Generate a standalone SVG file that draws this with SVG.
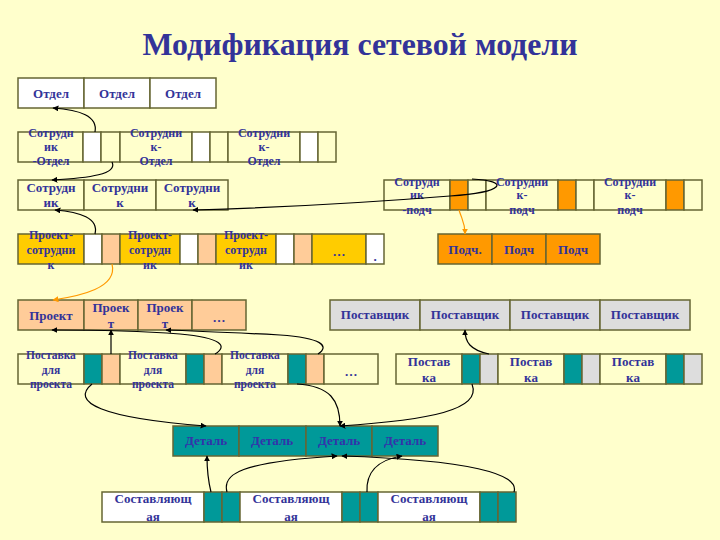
<svg xmlns="http://www.w3.org/2000/svg" width="720" height="540" viewBox="0 0 720 540">
<defs>
<style>
.b{stroke:#666633;stroke-width:1.5}
.w{fill:#FFFFFF}.c{fill:#FFFFCC}.g{fill:#FFCC00}.o{fill:#FF9900}.p{fill:#FFCC99}.t{fill:#009999}.s{fill:#DDDDDD}
text{font-family:"Liberation Serif","Times New Roman",serif;font-weight:bold;fill:#333399;text-anchor:middle}
.f13{font-size:13px}.f12{font-size:12px}.f11{font-size:11.5px}
.dt{fill:#3333AA}
.k{fill:none;stroke:#000;stroke-width:1.2}
.ko{fill:none;stroke:#FF9900;stroke-width:1.2}
</style>
<marker id="a" viewBox="0 0 10 10" refX="9" refY="5" markerWidth="6" markerHeight="6" markerUnits="userSpaceOnUse" orient="auto"><path d="M0,0L10,5L0,10z" fill="#000"/></marker>
<marker id="ao" viewBox="0 0 10 10" refX="9" refY="5" markerWidth="6" markerHeight="6" markerUnits="userSpaceOnUse" orient="auto"><path d="M0,0L10,5L0,10z" fill="#FF9900"/></marker>
</defs>
<rect width="720" height="540" fill="#FFFFCC"/>
<text x="360" y="55" font-size="32" textLength="435" lengthAdjust="spacingAndGlyphs">Модификация сетевой модели</text>

<g id="otdel">
<rect class="b w" x="18" y="78" width="66" height="30"/><rect class="b w" x="84" y="78" width="66" height="30"/><rect class="b w" x="150" y="78" width="66" height="30"/>
<text class="f13" x="51" y="98">Отдел</text><text class="f13" x="117" y="98">Отдел</text><text class="f13" x="183" y="98">Отдел</text>
</g>

<g id="sotr-otdel">
<rect class="b c" x="18" y="132" width="65" height="30"/><rect class="b w" x="83" y="132" width="18" height="30"/><rect class="b c" x="101" y="132" width="19" height="30"/>
<rect class="b c" x="120" y="132" width="72" height="30"/><rect class="b w" x="192" y="132" width="18" height="30"/><rect class="b c" x="210" y="132" width="18" height="30"/>
<rect class="b c" x="228" y="132" width="72" height="30"/><rect class="b w" x="300" y="132" width="18" height="30"/><rect class="b c" x="318" y="132" width="18" height="30"/>
<text class="f12"><tspan x="51" y="137">Сотрудн</tspan><tspan x="51" y="151">ик</tspan><tspan x="51" y="165">-Отдел</tspan></text>
<text class="f12"><tspan x="156" y="137">Сотрудни</tspan><tspan x="156" y="151">к-</tspan><tspan x="156" y="165">Отдел</tspan></text>
<text class="f12"><tspan x="264" y="137">Сотрудни</tspan><tspan x="264" y="151">к-</tspan><tspan x="264" y="165">Отдел</tspan></text>
</g>

<g id="sotrudnik">
<rect class="b c" x="18" y="180" width="66" height="30"/><rect class="b c" x="84" y="180" width="72" height="30"/><rect class="b c" x="156" y="180" width="72" height="30"/>
<text class="f13"><tspan x="51" y="192">Сотрудн</tspan><tspan x="51" y="207">ик</tspan></text>
<text class="f13"><tspan x="120" y="192">Сотрудни</tspan><tspan x="120" y="207">к</tspan></text>
<text class="f13"><tspan x="192" y="192">Сотрудни</tspan><tspan x="192" y="207">к</tspan></text>
</g>

<g id="sotr-podch">
<rect class="b c" x="384" y="180" width="66" height="30"/><rect class="b o" x="450" y="180" width="18" height="30"/><rect class="b c" x="468" y="180" width="18" height="30"/>
<rect class="b c" x="486" y="180" width="72" height="30"/><rect class="b o" x="558" y="180" width="18" height="30"/><rect class="b c" x="576" y="180" width="18" height="30"/>
<rect class="b c" x="594" y="180" width="72" height="30"/><rect class="b o" x="666" y="180" width="18" height="30"/><rect class="b c" x="684" y="180" width="18" height="30"/>
<text class="f12"><tspan x="417" y="186">Сотрудн</tspan><tspan x="417" y="199">ик</tspan><tspan x="417" y="214">-подч</tspan></text>
<text class="f12"><tspan x="522" y="186">Сотрудни</tspan><tspan x="522" y="199">к-</tspan><tspan x="522" y="214">подч</tspan></text>
<text class="f12"><tspan x="630" y="186">Сотрудни</tspan><tspan x="630" y="199">к-</tspan><tspan x="630" y="214">подч</tspan></text>
</g>

<g id="proekt-sotr">
<rect class="b g" x="18" y="234" width="66" height="30"/><rect class="b w" x="84" y="234" width="18" height="30"/><rect class="b p" x="102" y="234" width="18" height="30"/>
<rect class="b g" x="120" y="234" width="60" height="30"/><rect class="b w" x="180" y="234" width="18" height="30"/><rect class="b p" x="198" y="234" width="18" height="30"/>
<rect class="b g" x="216" y="234" width="60" height="30"/><rect class="b w" x="276" y="234" width="18" height="30"/><rect class="b p" x="294" y="234" width="18" height="30"/>
<rect class="b g" x="312" y="234" width="54" height="30"/><rect class="b w" x="366" y="234" width="18" height="30"/>
<text class="f12"><tspan x="51" y="239">Проект-</tspan><tspan x="51" y="254">сотрудни</tspan><tspan x="51" y="269">к</tspan></text>
<text class="f12"><tspan x="150" y="239">Проект-</tspan><tspan x="150" y="254">сотрудн</tspan><tspan x="150" y="269">ик</tspan></text>
<text class="f12"><tspan x="246" y="239">Проект-</tspan><tspan x="246" y="254">сотрудн</tspan><tspan x="246" y="269">ик</tspan></text>
<text class="f13" x="339" y="256">…</text>
<text class="f13" x="375" y="261">.</text>
</g>

<g id="podch">
<rect class="b o" x="438" y="234" width="54" height="30"/><rect class="b o" x="492" y="234" width="54" height="30"/><rect class="b o" x="546" y="234" width="54" height="30"/>
<text class="f13" x="465" y="254">Подч.</text><text class="f13" x="519" y="254">Подч</text><text class="f13" x="573" y="254">Подч</text>
</g>

<g id="proekt">
<rect class="b p" x="18" y="300" width="66" height="30"/><rect class="b p" x="84" y="300" width="54" height="30"/><rect class="b p" x="138" y="300" width="54" height="30"/><rect class="b p" x="192" y="300" width="54" height="30"/>
<text class="f13" x="51" y="320">Проект</text>
<text class="f13"><tspan x="111" y="312">Проек</tspan><tspan x="111" y="328">т</tspan></text>
<text class="f13"><tspan x="165" y="312">Проек</tspan><tspan x="165" y="328">т</tspan></text>
<text class="f13" x="219" y="322">…</text>
</g>

<g id="postavshik">
<rect class="b s" x="330" y="300" width="90" height="30"/><rect class="b s" x="420" y="300" width="90" height="30"/><rect class="b s" x="510" y="300" width="90" height="30"/><rect class="b s" x="600" y="300" width="90" height="30"/>
<text class="f13" x="375" y="319">Поставщик</text><text class="f13" x="465" y="319">Поставщик</text><text class="f13" x="555" y="319">Поставщик</text><text class="f13" x="645" y="319">Поставщик</text>
</g>

<g id="postavka-proekt">
<rect class="b c" x="18" y="354" width="66" height="30"/><rect class="b t" x="84" y="354" width="18" height="30"/><rect class="b p" x="102" y="354" width="18" height="30"/>
<rect class="b c" x="120" y="354" width="66" height="30"/><rect class="b t" x="186" y="354" width="18" height="30"/><rect class="b p" x="204" y="354" width="18" height="30"/>
<rect class="b c" x="222" y="354" width="66" height="30"/><rect class="b t" x="288" y="354" width="18" height="30"/><rect class="b p" x="306" y="354" width="18" height="30"/>
<rect class="b c" x="324" y="354" width="54" height="30"/>
<text class="f11"><tspan x="51" y="359">Поставка</tspan><tspan x="51" y="374">для</tspan><tspan x="51" y="388">проекта</tspan></text>
<text class="f11"><tspan x="153" y="359">Поставка</tspan><tspan x="153" y="374">для</tspan><tspan x="153" y="388">проекта</tspan></text>
<text class="f11"><tspan x="255" y="359">Поставка</tspan><tspan x="255" y="374">для</tspan><tspan x="255" y="388">проекта</tspan></text>
<text class="f13" x="351" y="376">…</text>
</g>

<g id="postavka">
<rect class="b c" x="396" y="354" width="66" height="30"/><rect class="b t" x="462" y="354" width="18" height="30"/><rect class="b s" x="480" y="354" width="18" height="30"/>
<rect class="b c" x="498" y="354" width="66" height="30"/><rect class="b t" x="564" y="354" width="18" height="30"/><rect class="b s" x="582" y="354" width="18" height="30"/>
<rect class="b c" x="600" y="354" width="66" height="30"/><rect class="b t" x="666" y="354" width="18" height="30"/><rect class="b s" x="684" y="354" width="18" height="30"/>
<text class="f13"><tspan x="429" y="366">Постав</tspan><tspan x="429" y="382">ка</tspan></text>
<text class="f13"><tspan x="531" y="366">Постав</tspan><tspan x="531" y="382">ка</tspan></text>
<text class="f13"><tspan x="633" y="366">Постав</tspan><tspan x="633" y="382">ка</tspan></text>
</g>

<g id="detal">
<rect class="b t" x="173" y="426" width="66" height="30"/><rect class="b t" x="239" y="426" width="67" height="30"/><rect class="b t" x="306" y="426" width="66" height="30"/><rect class="b t" x="372" y="426" width="66" height="30"/>
<text class="f13 dt" x="206" y="445">Деталь</text><text class="f13 dt" x="272" y="445">Деталь</text><text class="f13 dt" x="339" y="445">Деталь</text><text class="f13 dt" x="405" y="445">Деталь</text>
</g>

<g id="sostavl">
<rect class="b w" x="102" y="492" width="102" height="30"/><rect class="b t" x="204" y="492" width="18" height="30"/><rect class="b t" x="222" y="492" width="18" height="30"/>
<rect class="b w" x="240" y="492" width="102" height="30"/><rect class="b t" x="342" y="492" width="18" height="30"/><rect class="b t" x="360" y="492" width="18" height="30"/>
<rect class="b w" x="378" y="492" width="102" height="30"/><rect class="b t" x="480" y="492" width="18" height="30"/><rect class="b t" x="498" y="492" width="18" height="30"/>
<text class="f13"><tspan x="153" y="503">Составляющ</tspan><tspan x="153" y="521">ая</tspan></text>
<text class="f13"><tspan x="291" y="503">Составляющ</tspan><tspan x="291" y="521">ая</tspan></text>
<text class="f13"><tspan x="429" y="503">Составляющ</tspan><tspan x="429" y="521">ая</tspan></text>
</g>

<g id="connectors">
<path class="k" marker-end="url(#a)" d="M95,132 C98,116 80,110 53,108"/>
<path class="k" marker-end="url(#a)" d="M112,162 C118,174 90,178 52,180"/>
<path class="k" marker-end="url(#a)" d="M95,234 C99,218 80,212 55,210"/>
<path class="k" marker-end="url(#a)" d="M472,179 C510,181 506,192 450,196 C400,200 300,207 193,210"/>
<path class="ko" marker-end="url(#ao)" d="M459,210 C462,220 465,222 465,234"/>
<path class="ko" marker-end="url(#ao)" d="M112,264 C118,288 80,296 53,300"/>
<path class="k" marker-end="url(#a)" d="M111,354 L111,330"/>
<path class="k" marker-end="url(#a)" d="M215,354 C228,346 222,338 180,334 C140,331 90,330 52,330"/>
<path class="k" marker-end="url(#a)" d="M318,354 C330,346 322,338 280,335 C240,333 200,331 166,330"/>
<path class="k" marker-end="url(#a)" d="M92,384 C70,402 100,418 206,426"/>
<path class="k" marker-end="url(#a)" d="M297,384 C330,386 340,400 340,426"/>
<path class="k" marker-end="url(#a)" d="M472,384 C482,410 430,420 340,426"/>
<path class="k" marker-end="url(#a)" d="M489,354 C470,350 465,342 465,330"/>
<path class="k" marker-end="url(#a)" d="M211,492 C208,480 207,470 207,456"/>
<path class="k" marker-end="url(#a)" d="M227,492 C222,474 240,462 337,456"/>
<path class="k" marker-end="url(#a)" d="M367,492 C366,474 376,460 402,456"/>
<path class="k" marker-end="url(#a)" d="M514,492 C520,474 470,460 342,456"/>
</g>
</svg>
